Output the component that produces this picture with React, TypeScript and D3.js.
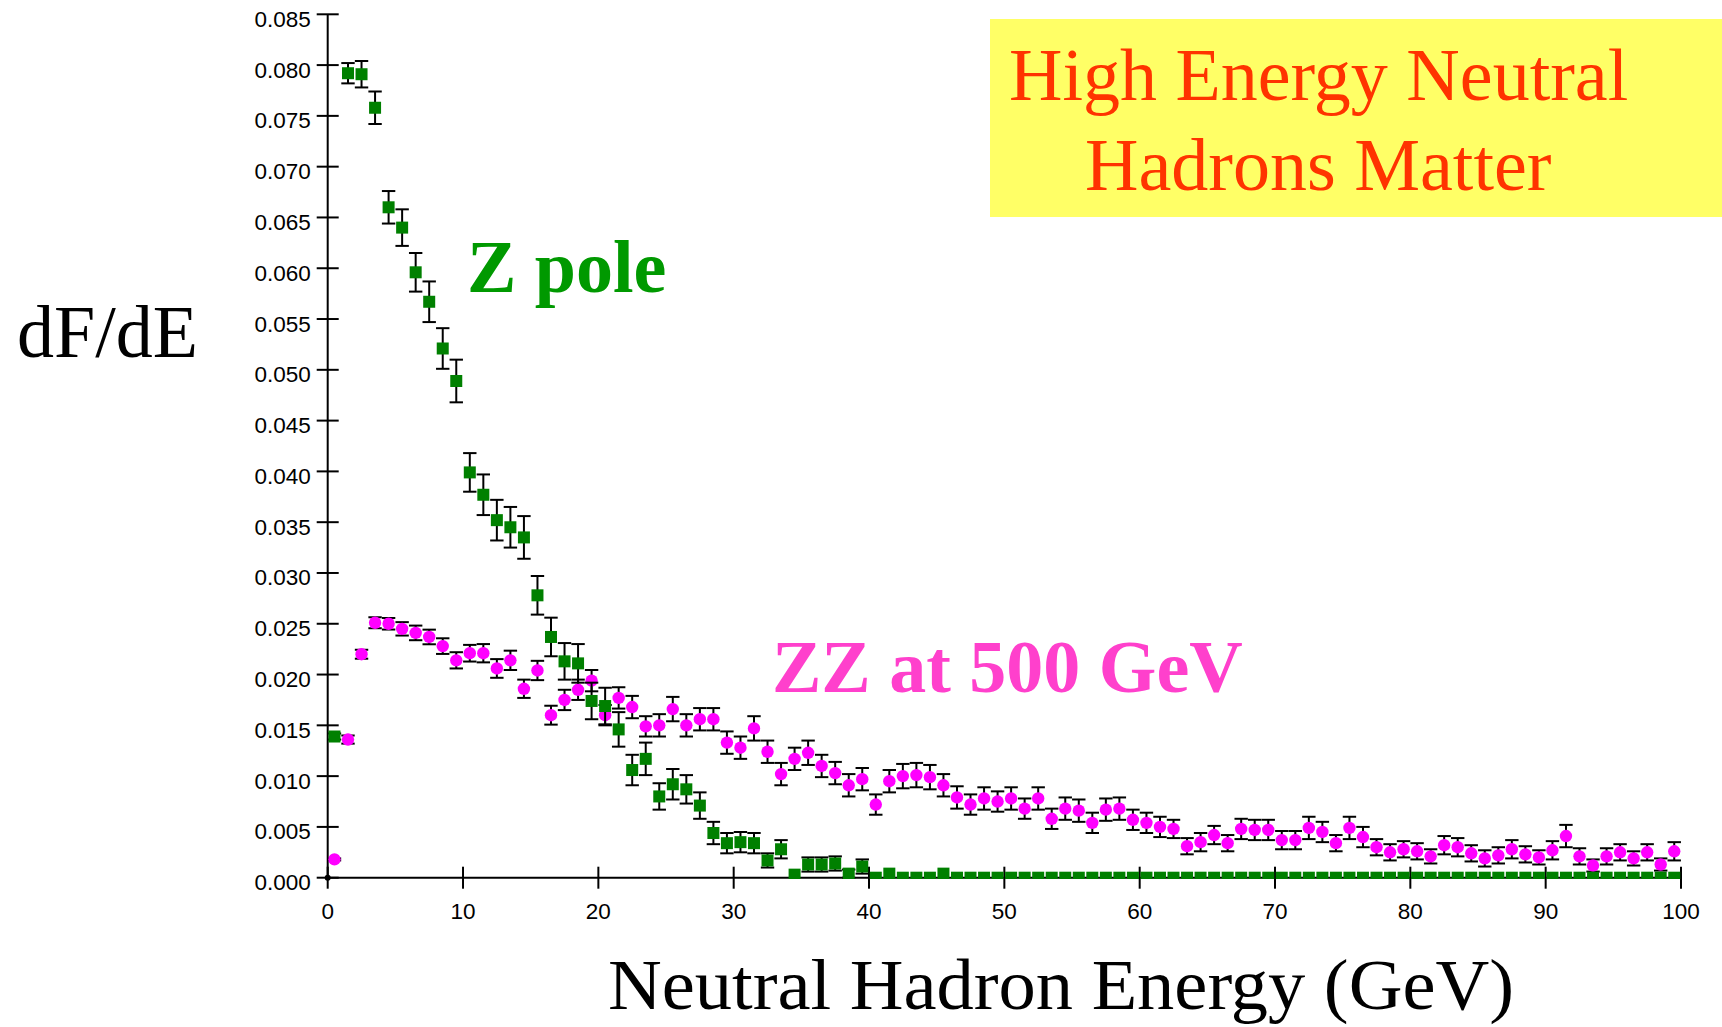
import React from "react";
import * as d3 from "d3";

// ---- Data ----
const binCenters: number[] = d3.range(100).map((i) => i + 0.5);

const zPole: number[] = [
  0.0139, 0.0792, 0.0791, 0.0758, 0.066, 0.064, 0.0596, 0.0567, 0.0521, 0.0489,
  0.0399, 0.0377, 0.0352, 0.0345, 0.0335, 0.0278, 0.0237, 0.0213, 0.0211, 0.0174,
  0.0169, 0.0146, 0.0106, 0.0117, 0.008, 0.0092, 0.0087, 0.0071, 0.0044, 0.0034,
  0.0035, 0.0034, 0.0017, 0.0028, 0.0003, 0.0013, 0.0013, 0.0014, 0.0004, 0.0011,
  0, 0.0004, 0, 0, 0, 0.0004, 0, 0, 0, 0,
  0, 0, 0, 0, 0, 0, 0, 0, 0, 0,
  0, 0, 0, 0, 0, 0, 0, 0, 0, 0,
  0, 0, 0, 0, 0, 0, 0, 0, 0, 0,
  0, 0, 0, 0, 0, 0, 0, 0, 0, 0,
  0, 0, 0, 0, 0, 0, 0, 0, 0, 0,
];

const zPoleErr: number[] = [
  0.0003, 0.001, 0.0013, 0.0016, 0.0016, 0.0018, 0.0019, 0.002, 0.002, 0.0021,
  0.0019, 0.002, 0.002, 0.002, 0.0021, 0.0019, 0.0019, 0.0018, 0.0019, 0.0018,
  0.0018, 0.0017, 0.0015, 0.0016, 0.0013, 0.0015, 0.0014, 0.0013, 0.0011, 0.001,
  0.001, 0.001, 0.0007, 0.0009, 0, 0.0007, 0.0007, 0.0007, 0.0004, 0.0007,
  0, 0, 0, 0, 0, 0, 0, 0, 0, 0,
  0, 0, 0, 0, 0, 0, 0, 0, 0, 0,
  0, 0, 0, 0, 0, 0, 0, 0, 0, 0,
  0, 0, 0, 0, 0, 0, 0, 0, 0, 0,
  0, 0, 0, 0, 0, 0, 0, 0, 0, 0,
  0, 0, 0, 0, 0, 0, 0, 0, 0, 0,
];

const zz500: number[] = [
  0.0018, 0.0136, 0.022, 0.0251, 0.025, 0.0245, 0.0241, 0.0237, 0.0228, 0.0214,
  0.0221, 0.0221, 0.0206, 0.0214, 0.0186, 0.0204, 0.016, 0.0175, 0.0185, 0.0194,
  0.016, 0.0177, 0.0168, 0.0149, 0.015, 0.0166, 0.015, 0.0156, 0.0156, 0.0133,
  0.0128, 0.0147, 0.0124, 0.0102, 0.0117, 0.0123, 0.011, 0.0103, 0.0091, 0.0097,
  0.0072, 0.0095, 0.01, 0.0101, 0.0099, 0.0091, 0.0079, 0.0072, 0.0078, 0.0075,
  0.0078, 0.0068, 0.0078, 0.0058, 0.0068, 0.0066, 0.0054, 0.0067, 0.0068, 0.0057,
  0.0054, 0.005, 0.0048, 0.0031, 0.0035, 0.0042, 0.0034, 0.0048, 0.0047, 0.0047,
  0.0037, 0.0037, 0.0049, 0.0045, 0.0034, 0.0049, 0.004, 0.003, 0.0025, 0.0028,
  0.0026, 0.0021, 0.0032, 0.003, 0.0024, 0.0019, 0.0022, 0.0028, 0.0023, 0.002,
  0.0027, 0.0041, 0.0021, 0.0012, 0.0021, 0.0025, 0.0019, 0.0025, 0.0013, 0.0026,
];

const zz500Err: number[] = [
  0.0001, 0.0004, 0.00044, 0.00054, 0.00057, 0.00066, 0.00072, 0.00072, 0.00077, 0.0008,
  0.00082, 0.0009, 0.00092, 0.00095, 0.0009, 0.00095, 0.00093, 0.001, 0.001, 0.00105,
  0.001, 0.00105, 0.0011, 0.001, 0.0011, 0.0012, 0.0011, 0.0011, 0.0011, 0.0011,
  0.0011, 0.0012, 0.0011, 0.0011, 0.0011, 0.0012, 0.0011, 0.0011, 0.0011, 0.0011,
  0.001, 0.0011, 0.0012, 0.0012, 0.0012, 0.0011, 0.0011, 0.001, 0.0011, 0.001,
  0.0011, 0.001, 0.0011, 0.001, 0.0011, 0.0011, 0.001, 0.0011, 0.0011, 0.001,
  0.001, 0.001, 0.0009, 0.0008, 0.0009, 0.0009, 0.0008, 0.001, 0.001, 0.001,
  0.0009, 0.0009, 0.0011, 0.001, 0.0008, 0.0011, 0.001, 0.0008, 0.0008, 0.0008,
  0.0008, 0.0007, 0.0009, 0.0009, 0.0008, 0.0008, 0.0008, 0.0009, 0.0008, 0.0007,
  0.0009, 0.0011, 0.0008, 0.0006, 0.0008, 0.0008, 0.0007, 0.0008, 0.0006, 0.0009,
];

const yTicks: number[] = [
  0, 0.005, 0.01, 0.015, 0.02, 0.025, 0.03, 0.035, 0.04, 0.045, 0.05, 0.055,
  0.06, 0.065, 0.07, 0.075, 0.08, 0.085,
];
const xTicks: number[] = [0, 10, 20, 30, 40, 50, 60, 70, 80, 90, 100];

const titleLines: string[] = ["High Energy Neutral", "Hadrons Matter"];
const yLabel = "dF/dE";
const xLabel = "Neutral Hadron Energy (GeV)";
const zLabel = "Z pole";
const zzLabel = "ZZ at 500 GeV";

// ---- Component ----
export default function App() {
  const W = 1722;
  const H = 1027;
  const x = d3.scaleLinear().domain([0, 100]).range([327.7, 1681]);
  const y = d3.scaleLinear().domain([0, 0.085]).range([877.7, 14.3]);
  const x0 = x(0);
  const y0 = y(0);
  const fmt = d3.format(".3f");
  const sans = "'Liberation Sans', Arial, Helvetica, sans-serif";
  const serif = "'Liberation Serif', 'Times New Roman', Times, serif";
  const cap = 6.7;

  const errBars = (vals: number[], errs: number[], key: string) =>
    vals.map((v, i) => {
      const e = errs[i];
      if (!e) return null;
      const cx = x(binCenters[i]);
      const yt = y(v + e);
      const yb = y(Math.max(0, v - e));
      return (
        <g key={key + i} stroke="#000" strokeWidth={2}>
          <line x1={cx} x2={cx} y1={yt} y2={yb} />
          <line x1={cx - cap} x2={cx + cap} y1={yt} y2={yt} />
          <line x1={cx - cap} x2={cx + cap} y1={yb} y2={yb} />
        </g>
      );
    });

  return (
    <svg
      width={W}
      height={H}
      style={{ position: "absolute", left: 0, top: 0, background: "#fff" }}
    >
      <defs>
        <clipPath id="plotClip">
          <rect x={0} y={0} width={W} height={y0 + 1.2} />
        </clipPath>
      </defs>
      <rect x={0} y={0} width={W} height={H} fill="#fff" />

      {/* Title box */}
      <rect x={990} y={19} width={W - 990} height={198} fill="#ffff66" />
      <text x={1009} y={100} fontFamily={serif} fontSize={74} fill="#ff3300">
        {titleLines[0]}
      </text>
      <text x={1085} y={190} fontFamily={serif} fontSize={74} fill="#ff3300">
        {titleLines[1]}
      </text>

      {/* Axes */}
      <g stroke="#000" strokeWidth={2}>
        <line x1={x0} x2={x0} y1={y(0.085)} y2={y0} />
        <line x1={x0} x2={x(100)} y1={y0} y2={y0} />
        {yTicks.map((t) => (
          <line key={"yt" + t} x1={x0 - 11} x2={x0 + 11} y1={y(t)} y2={y(t)} />
        ))}
        {xTicks.map((t) => (
          <line key={"xt" + t} x1={x(t)} x2={x(t)} y1={y0 - 11} y2={y0 + 11} />
        ))}
      </g>
      <circle cx={x0} cy={y0} r={3} fill="#000" />
      {yTicks.map((t) => (
        <text
          key={"yl" + t}
          x={310.7}
          y={y(t) + 12.5}
          textAnchor="end"
          fontFamily={sans}
          fontSize={22.5}
          fill="#000"
        >
          {fmt(t)}
        </text>
      ))}
      {xTicks.map((t) => (
        <text
          key={"xl" + t}
          x={x(t)}
          y={918.5}
          textAnchor="middle"
          fontFamily={sans}
          fontSize={22.5}
          fill="#000"
        >
          {t}
        </text>
      ))}

      {/* Data */}
      <g clipPath="url(#plotClip)">
        {errBars(zz500, zz500Err, "zze")}
        {zz500.map((v, i) => (
          <circle
            key={"zz" + i}
            cx={x(binCenters[i])}
            cy={y(v)}
            r={6.2}
            fill="#ff00ff"
          />
        ))}
        {errBars(zPole, zPoleErr, "zpe")}
        {zPole.map((v, i) => (
          <rect
            key={"zp" + i}
            x={x(binCenters[i]) - 6}
            y={y(v) - 6}
            width={12}
            height={12}
            fill="#008000"
          />
        ))}
      </g>

      {/* Labels */}
      <text x={17} y={356.7} fontFamily={serif} fontSize={74} fill="#000">
        {yLabel}
      </text>
      <text
        x={608}
        y={1009}
        fontFamily={serif}
        fontSize={72}
        textLength={906}
        lengthAdjust="spacingAndGlyphs"
        fill="#000"
      >
        {xLabel}
      </text>
      <text
        x={467}
        y={291.7}
        fontFamily={serif}
        fontSize={74}
        fontWeight="bold"
        fill="#009900"
      >
        {zLabel}
      </text>
      <text
        x={772}
        y={691.7}
        fontFamily={serif}
        fontSize={74}
        fontWeight="bold"
        fill="#ff40cc"
      >
        {zzLabel}
      </text>
    </svg>
  );
}
